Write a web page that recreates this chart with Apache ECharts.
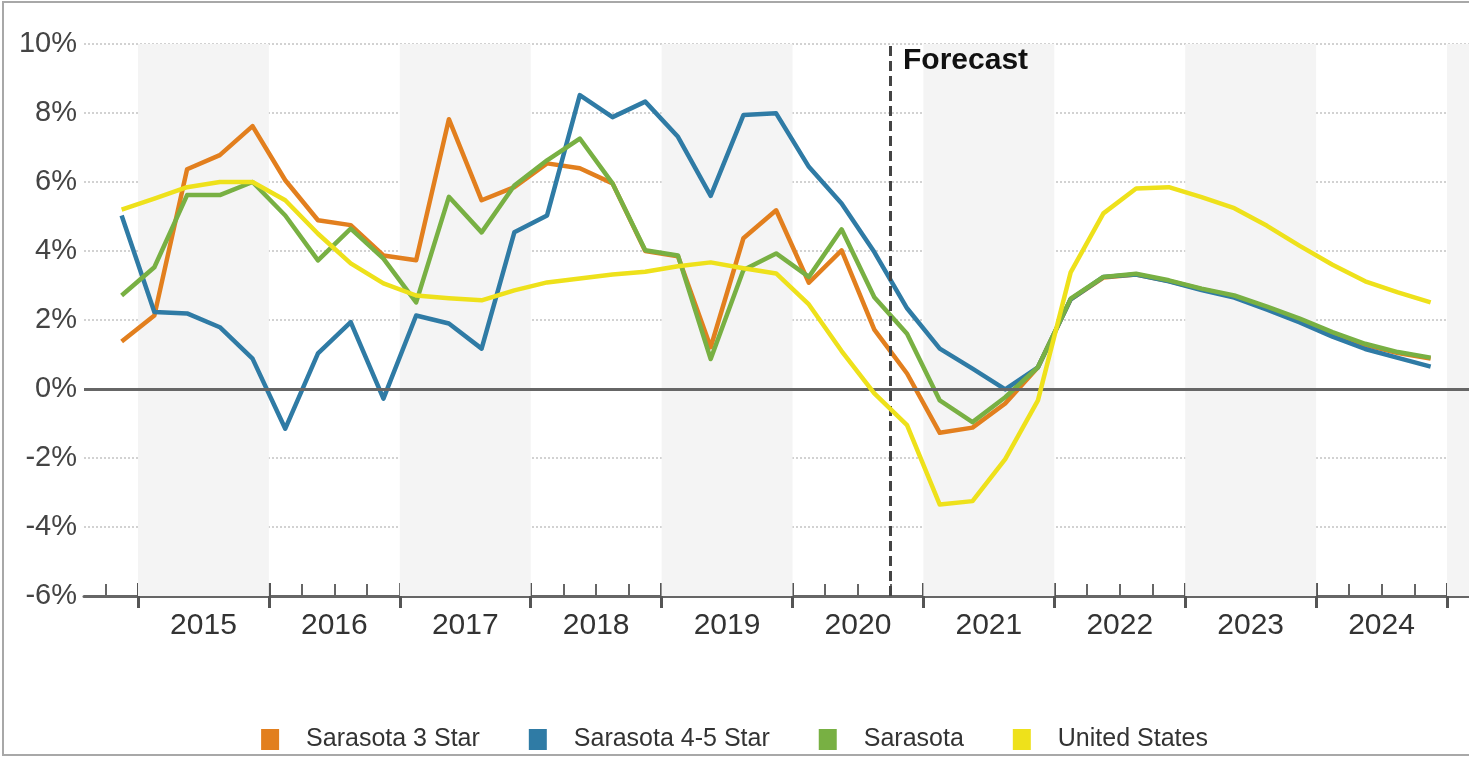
<!DOCTYPE html>
<html><head><meta charset="utf-8">
<script src="https://cdn.jsdelivr.net/npm/echarts@6/dist/echarts.min.js"></script>
<style>html,body{margin:0;padding:0;background:#fff}#c{width:1469px;height:758px}</style>
</head><body><div id="c"></div>
<script>
// ---- data ----
const quarters = [
  '2014 Q4',
  '2015 Q1','2015 Q2','2015 Q3','2015 Q4',
  '2016 Q1','2016 Q2','2016 Q3','2016 Q4',
  '2017 Q1','2017 Q2','2017 Q3','2017 Q4',
  '2018 Q1','2018 Q2','2018 Q3','2018 Q4',
  '2019 Q1','2019 Q2','2019 Q3','2019 Q4',
  '2020 Q1','2020 Q2','2020 Q3','2020 Q4',
  '2021 Q1','2021 Q2','2021 Q3','2021 Q4',
  '2022 Q1','2022 Q2','2022 Q3','2022 Q4',
  '2023 Q1','2023 Q2','2023 Q3','2023 Q4',
  '2024 Q1','2024 Q2','2024 Q3','2024 Q4'
];
const sarasota3Star = [1.38, 2.13, 6.37, 6.78, 7.62, 6.05, 4.89, 4.75, 3.87, 3.73, 7.82, 5.47, 5.85, 6.54, 6.40, 5.96, 4.00, 3.85, 1.21, 4.37, 5.18, 3.08, 4.02, 1.72, 0.45, -1.27, -1.12, -0.42, 0.63, 2.60, 3.23, 3.32, 3.13, 2.89, 2.68, 2.36, 2.00, 1.62, 1.28, 1.04, 0.88];
const sarasota45Star = [5.03, 2.23, 2.19, 1.79, 0.88, -1.15, 1.03, 1.94, -0.28, 2.13, 1.90, 1.17, 4.54, 5.03, 8.52, 7.88, 8.33, 7.31, 5.60, 7.94, 7.99, 6.44, 5.38, 3.97, 2.34, 1.17, 0.59, -0.01, 0.63, 2.60, 3.25, 3.32, 3.12, 2.87, 2.65, 2.30, 1.93, 1.52, 1.16, 0.90, 0.65];
const sarasota = [2.71, 3.53, 5.62, 5.62, 6.00, 5.03, 3.73, 4.65, 3.78, 2.51, 5.57, 4.54, 5.90, 6.63, 7.26, 5.96, 4.02, 3.87, 0.87, 3.45, 3.93, 3.25, 4.63, 2.66, 1.60, -0.33, -0.96, -0.24, 0.63, 2.62, 3.25, 3.34, 3.15, 2.91, 2.71, 2.39, 2.04, 1.65, 1.31, 1.07, 0.91];
const unitedStates = [5.20, 5.52, 5.85, 6.00, 6.00, 5.47, 4.50, 3.64, 3.06, 2.71, 2.63, 2.57, 2.86, 3.09, 3.20, 3.32, 3.40, 3.56, 3.67, 3.50, 3.35, 2.45, 1.10, -0.13, -1.05, -3.35, -3.25, -2.03, -0.33, 3.38, 5.09, 5.81, 5.85, 5.56, 5.24, 4.73, 4.15, 3.60, 3.12, 2.80, 2.51];
const seriesNames = ['Sarasota 3 Star', 'Sarasota 4-5 Star', 'Sarasota', 'United States'];
const seriesColors = ['#E27F1E', '#2F7BA5', '#78B043', '#EEE11B'];
const yearLabels = ['2015','2016','2017','2018','2019','2020','2021','2022','2023','2024'];
const shadedYears = ['2015','2017','2019','2021','2023','2025'];
const forecastStart = '2020 Q4';
const forecastLabel = 'Forecast';

// ---- helpers ----
function qStart(q){ const p = q.split(' Q'); return +p[0] + (+p[1]-1)*0.25; }
function qMid(q){ return qStart(q) + 0.125; }
const toPts = arr => arr.map((v,i)=>[qMid(quarters[i]), v]);
const quarterBounds = quarters.map(qStart).concat([qStart(quarters[quarters.length-1]) + 0.25]);
const yearBounds = yearLabels.map(y=>+y).concat([+yearLabels[yearLabels.length-1]+1]);
const yearCenters = yearLabels.map(y=>+y + 0.5);
const X_MIN = 2014.5875, X_MAX = 2025.168;

const FONT = '"Liberation Sans", Arial, sans-serif';
const chart = echarts.init(document.getElementById('c'), null, {renderer:'canvas'});

const baseX = {type:'value', min:X_MIN, max:X_MAX, position:'bottom', splitLine:{show:false}};

chart.setOption({
  animation:false,
  backgroundColor:'#fff',
  grid:{left:84, right:0, top:44, bottom:162, containLabel:false},
  xAxis:[
    Object.assign({}, baseX, {
      axisLine:{show:true, onZero:false, lineStyle:{color:'#666', width:3}},
      axisTick:{show:true, inside:false, length:12, customValues:yearBounds, lineStyle:{color:'#555', width:3}},
      axisLabel:{show:true, customValues:yearCenters, margin:15, fontSize:30, color:'#333', fontFamily:FONT,
        formatter:v=>{ const y = String(Math.floor(v+1e-6)); return yearLabels.indexOf(y)>=0 ? y : ''; }}
    }),
    Object.assign({}, baseX, {
      axisLine:{show:false, onZero:false},
      axisTick:{show:true, inside:true, length:12, customValues:quarterBounds, lineStyle:{color:'#666', width:2}},
      axisLabel:{show:false}
    }),
    Object.assign({}, baseX, {
      axisLine:{show:false, onZero:false},
      axisTick:{show:true, inside:true, length:13, customValues:yearBounds, lineStyle:{color:'#555', width:3}},
      axisLabel:{show:false}
    })
  ],
  yAxis:{
    type:'value', min:-6, max:10, interval:2,
    axisLine:{show:false}, axisTick:{show:false},
    axisLabel:{formatter:'{value}%', fontSize:29, color:'#444', margin:7, fontFamily:FONT},
    splitLine:{show:true, lineStyle:{color:'#c4c4c4', width:1.5, type:[2,2]}}
  },
  legend:{
    data:seriesNames, left:'center', top:722, icon:'rect', itemWidth:18, itemHeight:21, itemGap:49,
    textStyle:{fontSize:25, color:'#333', fontFamily:FONT, padding:[0,0,0,22]}
  },
  graphic:[
    {type:'rect', shape:{x:3, y:2, width:1480, height:753}, style:{fill:'none', stroke:'#a8a8a8', lineWidth:2}, silent:true, z:100},
    {type:'text', left:903, top:46, style:{text:forecastLabel, font:'bold 30px '+FONT, fill:'#111'}, z:100}
  ],
  series:[
    {
      name:'bands', type:'line', data:[], z:-1, silent:true, xAxisIndex:0,
      markArea:{silent:true, itemStyle:{color:'#f4f4f4'},
        data: shadedYears.map(y=>[{xAxis:+y},{xAxis:Math.min(+y+1, X_MAX)}])},
      markLine:{silent:true, symbol:'none', label:{show:false},
        lineStyle:{color:'#666', width:3, type:'solid'}, data:[{yAxis:0}]}
    },
    ...[sarasota3Star, sarasota45Star, sarasota, unitedStates].map((arr,i)=>({
      name:seriesNames[i], type:'line', data:toPts(arr), xAxisIndex:0,
      showSymbol:false, symbol:'none', color:seriesColors[i],
      lineStyle:{width:4.5, color:seriesColors[i], join:'round'}, z:2+i
    })),
    {
      name:'forecast', type:'line', data:[], z:10, silent:true, xAxisIndex:0,
      markLine:{silent:true, symbol:'none', label:{show:false},
        lineStyle:{color:'#444', width:3, type:[10,5]}, data:[{xAxis:qStart(forecastStart)}]}
    }
  ]
});
</script>
</body></html>
